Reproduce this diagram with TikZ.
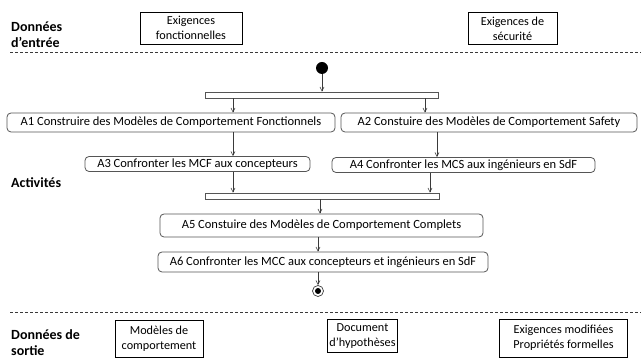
\documentclass[tikz,border=0pt]{standalone}
\usepackage{fontspec}
\setmainfont{Carlito}
\usetikzlibrary{arrows.meta}
\definecolor{edge}{HTML}{555555}
\definecolor{wire}{HTML}{3A3A3A}
\tikzset{
  every node/.style={font=\fontsize{12.5}{15}\selectfont, inner sep=0pt, text=black},
  databox/.style={draw=black, line width=0.9pt, align=center, font=\fontsize{12.2}{15}\selectfont},
  actbox/.style={draw=edge, line width=0.8pt, rounded corners=4pt, fill=white},
  syncbar/.style={draw=edge, line width=0.7pt, fill=white, minimum height=6pt},
  flow/.style={draw=wire, line width=0.9pt, -{Straight Barb[length=4pt, width=4pt, line width=0.6pt]}},
  zone/.style={font=\fontsize{14}{16}\selectfont\bfseries, anchor=west, align=left},
  sep/.style={draw=wire, line width=0.6pt, dash pattern=on 3pt off 2pt}
}
\begin{document}
\begin{tikzpicture}[x=1pt, y=-1pt]
\useasboundingbox (0,0) rectangle (641,363);

% row labels
\node[zone] (lin) at (11,35) {Données\\d’entrée};
\node[zone] (lact) at (11,183) {Activités};
\node[zone] (lout) at (11,343) {Données de\\sortie};

% separators
\coordinate (s1a) at (10,52);  \coordinate (s1b) at (641,52);
\coordinate (s2a) at (10,312); \coordinate (s2b) at (641,312);
\draw[sep] (s1a) -- (s1b);
\draw[sep] (s2a) -- (s2b);

% input data
\node[databox, minimum width=102pt, minimum height=32pt] (in1) at (191,28) {Exigences\\fonctionnelles};
\node[databox, minimum width=89pt, minimum height=32pt] (in2) at (512.5,28.5) {Exigences de\\sécurité};

% output data
\node[databox, minimum width=88pt, minimum height=37pt] (out1) at (159,339) {Modèles de\\comportement};
\node[databox, minimum width=70pt, minimum height=33pt] (out2) at (362.5,336) {Document\\d’hypothèses};
\node[databox, minimum width=128pt, minimum height=38pt] (out3) at (563.5,338) {Exigences modifiées\\Propriétés formelles};

% activity flow
\node[circle, fill=black, minimum size=12pt] (start) at (322,68) {};
\node[syncbar, minimum width=233pt] (fork) at (321.5,95) {};
\node[syncbar, minimum width=234pt] (join) at (322,196) {};

\node[actbox, minimum width=328pt, minimum height=19pt] (a1) at (171,122.5) {A1 Construire des Modèles de Comportement Fonctionnels};
\node[actbox, minimum width=296pt, minimum height=19pt] (a2) at (489,122.5) {A2 Constuire des Modèles de Comportement Safety};
\node[actbox, minimum width=225pt, minimum height=15pt] (a3) at (197.5,164) {A3 Confronter les MCF aux concepteurs};
\node[actbox, minimum width=263pt, minimum height=15pt] (a4) at (463.5,165) {A4 Confronter les MCS aux ingénieurs en SdF};
\node[actbox, minimum width=323pt, minimum height=23pt] (a5) at (321.5,225.5) {A5 Constuire des Modèles de Comportement Complets};
\node[actbox, minimum width=330pt, minimum height=20pt] (a6) at (323,262) {A6 Confronter les MCC aux concepteurs et ingénieurs en SdF};

\node[circle, draw=wire, line width=0.7pt, minimum size=11pt] (stop) at (318,291) {};
\node[circle, fill=black, minimum size=6pt] (stopdot) at (stop) {};

% columns of the connectors
\coordinate (cl) at (233,0);
\coordinate (cr) at (425,0);
\coordinate (cr2) at (437,0);
\coordinate (cr3) at (430,0);
\coordinate (cm) at (320,0);
\coordinate (cm2) at (318,0);

\draw[flow] (start) -- (start |- fork.north);
\draw[flow] (fork.south -| cl) -- (a1.north -| cl);
\draw[flow] (fork.south -| cr) -- (a2.north -| cr);
\draw[flow] (a1.south -| cl) -- (a3.north -| cl);
\draw[flow] (a2.south -| cr2) -- (a4.north -| cr2);
\draw[flow] (a3.south -| cl) -- (join.north -| cl);
\draw[flow] (a4.south -| cr3) -- (join.north -| cr3);
\draw[flow] (join.south -| cm) -- (a5.north -| cm);
\draw[flow] (a5.south -| cm2) -- (a6.north -| cm2);
\draw[flow] (a6.south -| cm2) -- (stop.north);
\end{tikzpicture}
\end{document}
